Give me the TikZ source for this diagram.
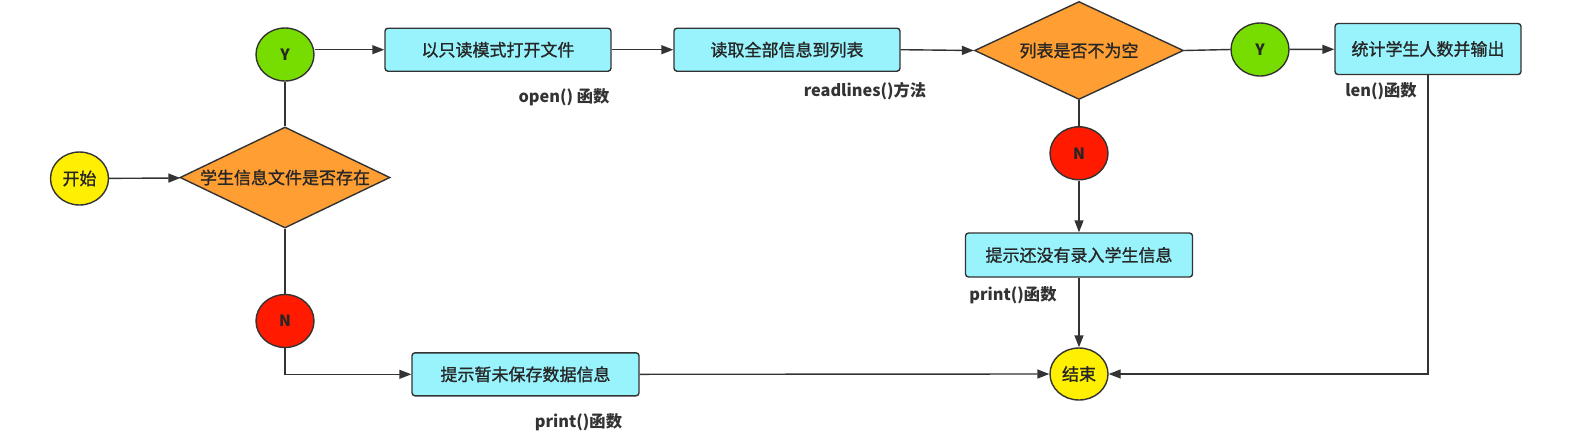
\documentclass[tikz,border=0pt]{standalone}
\usepackage{fontspec}
\setmainfont{Noto Sans CJK SC}
\newfontfamily\medfont{Noto Sans CJK SC}[FakeBold=1.2]
\usetikzlibrary{shapes.geometric,arrows.meta}
\definecolor{cyanbox}{HTML}{99F3FC}
\definecolor{orangeD}{HTML}{FF9E33}
\definecolor{yel}{HTML}{FFEF00}
\definecolor{grn}{HTML}{77DD00}
\definecolor{redN}{HTML}{FF1A00}
\definecolor{edge}{HTML}{333333}
\definecolor{txt}{HTML}{262626}
\begin{document}
\begin{tikzpicture}[x=1pt,y=-1pt,
  every node/.style={font=\medfont\fontsize{17}{19}\selectfont, text=txt},
  procbox/.style={draw=edge, line width=1.4pt, fill=cyanbox, rounded corners=3pt, inner sep=0pt},
  decision/.style={draw=edge, line width=1.4pt, fill=orangeD, diamond, aspect=2.1, inner sep=0pt},
  oval/.style={draw=edge, line width=1.4pt, ellipse, inner sep=0pt, minimum width=58pt, minimum height=53pt},
  yn/.style={oval, font=\fontsize{15.5}{17}\selectfont\bfseries},
  lbl/.style={font=\fontsize{16.3}{18}\selectfont\bfseries, text=edge, inner sep=0pt},
  arr/.style={draw=edge, line width=1.4pt, -{Triangle[length=12pt,width=9pt]}},
  ln/.style={draw=edge, line width=1.4pt}]
\useasboundingbox (0,0) rectangle (1583,437);
\fill[white] (0,0) rectangle (1583,437);

% nodes
\node[oval, fill=yel] (start) at (79.5,178.5) {开始};
\node[decision, minimum width=210pt, minimum height=101pt] (d1) at (285,177.5) {学生信息文件是否存在};
\node[yn, fill=grn] (y1) at (285,54.5) {Y};
\node[yn, fill=redN] (n1) at (285,321) {N};
\node[procbox, minimum width=226pt, minimum height=43pt] (b1) at (498,49.7) {以只读模式打开文件};
\node[procbox, minimum width=226pt, minimum height=43pt] (b2) at (787,49.7) {读取全部信息到列表};
\node[decision, minimum width=209pt, minimum height=98pt] (d2) at (1079,50.5) {列表是否不为空};
\node[yn, fill=grn] (y2) at (1260,49.5) {Y};
\node[procbox, minimum width=186pt, minimum height=51pt] (b3) at (1428,49) {统计学生人数并输出};
\node[yn, fill=redN] (n2) at (1079,153.3) {N};
\node[procbox, minimum width=227pt, minimum height=44pt] (b4) at (1079,255) {提示还没有录入学生信息};
\node[oval, fill=yel, minimum height=52pt] (end) at (1079,374) {结束};
\node[procbox, minimum width=227pt, minimum height=43pt] (b5) at (525.5,374.3) {提示暂未保存数据信息};

% labels
\node[lbl] (l1) at (564,97.5) {open() 函数};
\node[lbl] (l2) at (865,91) {readlines()方法};
\node[lbl] (l3) at (1381,91.5) {len()函数};
\node[lbl] (l4) at (1013,295.5) {print()函数};
\node[lbl] (l5) at (578.5,422) {print()函数};

% connectors
\draw[arr] (start) -- (d1);
\draw[ln] (d1.north) -- (y1.south);
\draw[arr] (y1.east |- b1.west) -- (b1.west);
\draw[arr] (b1) -- (b2);
\draw[arr] (b2.east) -- (d2.west);
\draw[ln] (d2.east) -- (y2.west);
\draw[arr] (y2) -- (b3);
\draw[ln] (d2.south) -- (n2.north);
\draw[arr] (n2) -- (b4);
\draw[arr] (b4) -- (end);
\draw[arr] (b3.south) |- (end.east);
\draw[ln] (d1.south) -- (n1.north);
\draw[arr] (n1.south) |- (b5.west);
\draw[arr] (b5.east) -- (end.west);
\end{tikzpicture}
\end{document}
